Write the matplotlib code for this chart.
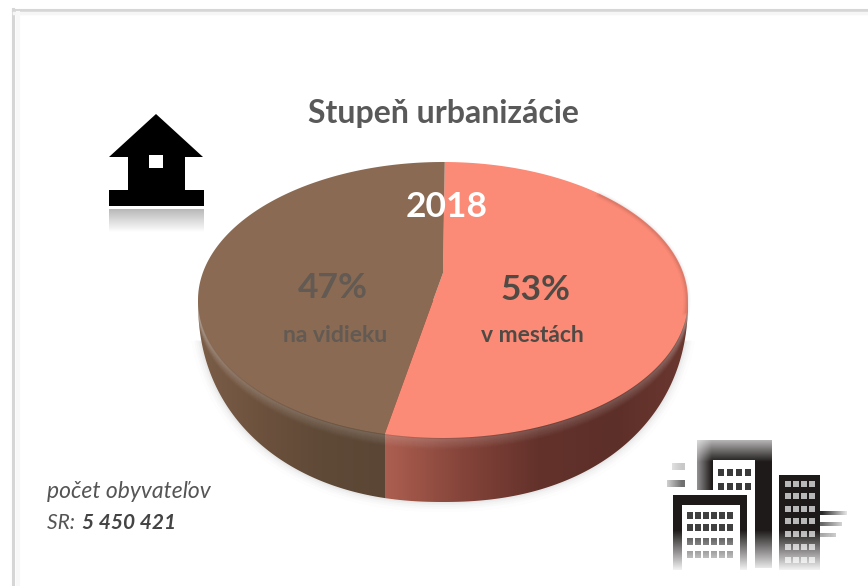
import matplotlib
matplotlib.use('Agg')
import matplotlib.pyplot as plt
import numpy as np
from matplotlib.colors import LinearSegmentedColormap
from matplotlib.patches import Polygon, Rectangle

plt.rcParams['font.family'] = ['Lato', 'DejaVu Sans']

# data
shares = [53, 47]
share_labels = ['53%', '47%']
area_labels = ['v mestách', 'na vidieku']
year = '2018'
title = 'Stupeň urbanizácie'
note_line1 = 'počet obyvateľov'
note_line2a = 'SR: '
note_line2b = '5 450 421'

# pie geometry in pixels
cx, cy = 443, 300
rx, ry = 245, 138
wall_ry = 202             # lower outline of the wall, same centre as the top face
wall_n = 2.2              # a bit squarer than an ellipse
persp = 0.196             # moves the pie centre up, like the 3d view
turn = 0.5                # degrees


def pie_xy(theta_deg, r=1.0):
    # theta counted clockwise from the top
    t = np.radians(np.asarray(theta_deg, dtype=float) + turn)
    u = r * np.sin(t)
    v = r * np.cos(t)
    w = 1 + persp * v
    x = np.sqrt(1 - persp ** 2) * u / w
    y = (v + persp) / w
    return cx + rx * x, cy - ry * y


def ellipse(x0, y0, a, b, t0=0, t1=360, n=300):
    t = np.radians(np.linspace(t0, t1, n))
    return x0 + a * np.cos(t), y0 + b * np.sin(t)


def wall_outline(grow=0, n=400):
    t = np.radians(np.linspace(0, 180, n))
    c = np.cos(t)
    s = np.sin(t)
    xs = cx + (rx + grow) * np.sign(c) * np.abs(c) ** (2 / wall_n)
    ys = cy + (wall_ry + grow) * np.abs(s) ** (2 / wall_n)
    return xs, ys


def hgrad(ax, colors, x0, x1, y0, y1, clip, z):
    cmap = LinearSegmentedColormap.from_list('g', colors)
    im = ax.imshow(np.linspace(0, 1, 256)[None, :], cmap=cmap, aspect='auto',
                   extent=(x0, x1, y1, y0), zorder=z)
    if clip is not None:
        im.set_clip_path(clip)
    return im


def vfade(ax, x0, x1, y0, y1, a0, a1, z, rgb=(1, 1, 1)):
    # white veil whose alpha changes from top to bottom
    arr = np.ones((128, 2, 4))
    arr[:, :, :3] = rgb
    arr[:, :, 3] = np.linspace(a0, a1, 128)[:, None]
    ax.imshow(arr, aspect='auto', extent=(x0, x1, y1, y0), zorder=z)


def hfade(ax, x0, x1, y0, y1, a0, a1, z, rgb=(1, 1, 1)):
    arr = np.ones((2, 128, 4))
    arr[:, :, :3] = rgb
    arr[:, :, 3] = np.linspace(a0, a1, 128)[None, :]
    ax.imshow(arr, aspect='auto', extent=(x0, x1, y1, y0), zorder=z)


fig = plt.figure(figsize=(8.68, 5.86), dpi=100, facecolor='white')
ax = fig.add_axes([0, 0, 1, 1])

# frame, only top and left
ax.plot([13, 868], [9.5, 9.5], color='#d6d6d6', lw=2.2, zorder=1)
ax.plot([13, 13], [9, 586], color='#d6d6d6', lw=2.2, zorder=1)
ax.plot([14, 868], [13, 13], color='#f6f6f6', lw=2.5, zorder=1)
ax.plot([18, 18], [13, 586], color='#f8f8f8', lw=3, zorder=1)

# soft shadow under the pie, only below the rim
for grow, al in [(10, 0.012), (7, 0.018), (5, 0.025), (3, 0.035), (1.5, 0.045)]:
    xs, ys = wall_outline(grow)
    keep = ys > cy + 40
    ax.fill(xs[keep], ys[keep], color='#555555', alpha=al, lw=0, zorder=2)

# split points come from the shares
split = np.cumsum(shares) / sum(shares) * 360
front_x, front_y = pie_xy(split[0])

# wall of the cylinder
xs, ys = wall_outline()
wall_clip = Polygon(np.column_stack([xs, ys]), closed=True, transform=ax.transData)
ax.add_patch(wall_clip)
wall_clip.set_visible(False)
hgrad(ax, ['#7c5e48', '#6d523e', '#5f4937', '#5b4635'], 195, front_x, 250, 510, wall_clip, 3)
hgrad(ax, ['#ac5f50', '#85443a', '#63322b', '#5d2f29', '#6c3830'], front_x, 690, 250, 510, wall_clip, 3)

# light band on the wall just under the rim
xs, ys = ellipse(cx, cy, rx, ry, 0, 180)
for k in range(1, 12):
    band, = ax.plot(xs, ys + k, color='white', lw=1.6, alpha=0.09 * (1 - k / 12), zorder=3.5)
    band.set_clip_path(wall_clip)

# top face
starts = np.concatenate([[0], split[:-1]])
face_colors = ['#fb8a76', '#8a6a52']
for a0, a1, col in zip(starts, split, face_colors):
    th = np.linspace(a0, a1, 200)
    px, py = pie_xy(th)
    apex_x, apex_y = pie_xy(0, 0)
    ax.fill(np.r_[apex_x, px], np.r_[apex_y, py], color=col, lw=0, zorder=4)

# dark edge at the right of the face
xs, ys = ellipse(cx, cy, rx - 1, ry - 1, -50, 5)
for lw, al in [(5, 0.03), (3, 0.05), (1.5, 0.07)]:
    ax.plot(xs, ys, color='#4a2a22', lw=lw, alpha=al, zorder=5)

# texts
ax.text(443, 113, title, ha='center', va='center', fontsize=23, fontweight='bold', color='#595959', zorder=8)
ax.text(447, 207, year, ha='center', va='center', fontsize=25.5, fontweight='bold', color='white', zorder=8)
ax.text(535, 290, share_labels[0], ha='center', va='center', fontsize=25.5, fontweight='bold', color='#504a45', zorder=8)
ax.text(333, 288, share_labels[1], ha='center', va='center', fontsize=25.5, fontweight='bold', color='#625a53', zorder=8)
ax.text(532, 336, area_labels[0], ha='center', va='center', fontsize=16.5, fontweight='bold', color='#504a45', zorder=8)
ax.text(335, 336, area_labels[1], ha='center', va='center', fontsize=16.5, fontweight='bold', color='#625a53', zorder=8)
ax.text(47, 492, note_line1, ha='left', va='center', fontsize=16.5, style='italic', color='#555555', zorder=8)
ax.text(47, 523, note_line2a, ha='left', va='center', fontsize=15, style='italic', color='#555555', zorder=8)
ax.text(82, 523, note_line2b, ha='left', va='center', fontsize=15, style='italic', fontweight='bold', color='#444444', zorder=8)

# house icon
house = [(156, 114), (203, 157), (185, 157), (185, 190), (204, 190), (204, 206),
         (109, 206), (109, 190), (128, 190), (128, 157), (109, 157)]
ax.add_patch(Polygon(house, closed=True, fc='black', ec='none', zorder=6))
ax.add_patch(Rectangle((149, 155), 14, 13, fc='white', ec='none', zorder=7))
ax.add_patch(Rectangle((109, 209), 95, 23, fc='#b4b4b4', ec='none', zorder=6))
vfade(ax, 109, 204, 209, 232, 0.05, 1, 7)

# buildings icon
ax.add_patch(Rectangle((697, 440), 75, 128, fc='#1e1a1a', ec='none', zorder=6))
ax.add_patch(Rectangle((713, 460), 42, 108, fc='white', ec='none', zorder=6))
for wy in [469, 483]:
    for wx in [718, 727, 736, 745]:
        ax.add_patch(Rectangle((wx, wy), 5.5, 7, fc='#3a3a3a', ec='none', zorder=6.1))
ax.add_patch(Rectangle((669, 490), 83, 80, fc='white', ec='none', zorder=6.2))
ax.add_patch(Rectangle((673, 495), 74, 75, fc='#1e1a1a', ec='none', zorder=6.3))
ax.add_patch(Rectangle((682, 505), 58, 65, fc='white', ec='none', zorder=6.4))
for wy in [512, 524, 538, 551]:
    for wx in [687, 695, 703, 711, 719, 727]:
        ax.add_patch(Rectangle((wx, wy), 5.5, 7, fc='#404040', ec='none', zorder=6.5))
ax.add_patch(Rectangle((779, 475), 41, 95, fc='#1e1a1a', ec='none', zorder=6.3))
for wy in [481, 493, 506, 518, 531, 544, 557]:
    for wx in [785, 793, 801, 809]:
        ax.add_patch(Rectangle((wx, wy), 5.5, 6, fc='#b8b8b8', ec='none', zorder=6.5))
for sy, sx, al in [(513, 847, 1.0), (524, 842, 0.7), (535, 836, 0.45)]:
    ax.add_patch(Rectangle((820, sy - 2), sx - 820, 4, fc='#2a2a2a', ec='none', alpha=al, zorder=6.3))
hfade(ax, 822, 850, 508, 542, 0, 1, 6.6)
ax.add_patch(Rectangle((667, 480), 18, 7, fc='#707070', ec='none', zorder=6))
ax.add_patch(Rectangle((672, 463), 13, 7, fc='#c8c8c8', ec='none', zorder=6))
hfade(ax, 660, 682, 458, 492, 1, 0, 6.6)
vfade(ax, 690, 775, 438, 462, 0.75, 0, 6.7)
hfade(ax, 695, 712, 438, 490, 0.6, 0, 6.7)
vfade(ax, 660, 830, 530, 572, 0, 1, 6.8)

ax.set_xlim(0, 868)
ax.set_ylim(586, 0)
ax.axis('off')

fig.savefig('out.png', dpi=100)
